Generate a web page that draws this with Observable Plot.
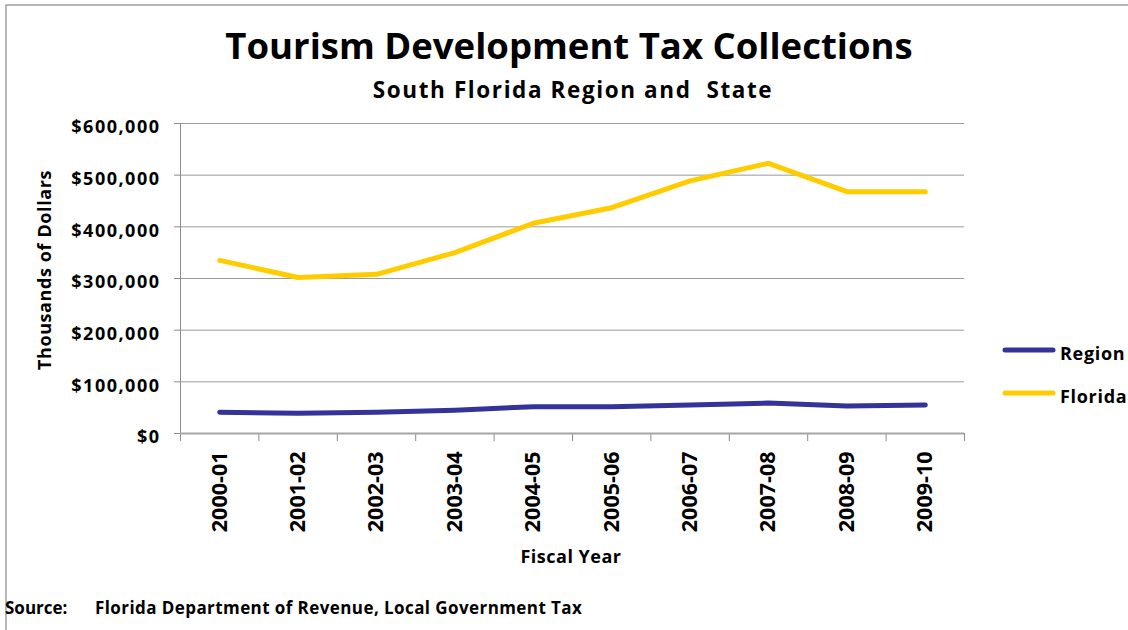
<!DOCTYPE html>
<html>
<head>
<meta charset="utf-8">
<script src="https://cdn.jsdelivr.net/npm/d3@7"></script>
<script src="https://cdn.jsdelivr.net/npm/@observablehq/plot@0.6"></script>
<style>
  html, body { margin: 0; padding: 0; background: #fff; }
  #wrap { position: relative; width: 1128px; height: 630px; overflow: hidden; font-family: "Open Sans", sans-serif; }
  #wrap > svg { position: absolute; left: 0; top: 0; }
  g[aria-label="y-axis tick label"] text { letter-spacing: 1.5px; }
  .t { font-family: "Open Sans", sans-serif; font-weight: bold; fill: #000; }
</style>
</head>
<body>
<div id="wrap"></div>
<script>
// ---- data ----
const years = ["2000-01","2001-02","2002-03","2003-04","2004-05","2005-06","2006-07","2007-08","2008-09","2009-10"];
const region = [41000, 39000, 41000, 45000, 52000, 52000, 55000, 59000, 53000, 55000];
const florida = [335000, 302000, 308000, 350000, 407000, 437000, 489000, 523000, 468000, 468000];
const yTicks = [0, 100000, 200000, 300000, 400000, 500000, 600000];
const seriesNames = ["Region", "Florida"];
const seriesColors = ["#333399", "#FFCC00"];

const rows = years.map((y, i) => ({i, year: y, region: region[i], florida: florida[i]}));
const boundaries = d3.range(-0.5, years.length, 1);
const fmt = d => "$" + d3.format(",")(d);

const chart = Plot.plot({
  width: 1128,
  height: 630,
  marginTop: 123,
  marginBottom: 197,
  marginLeft: 180,
  marginRight: 164,
  style: {fontFamily: "Open Sans", background: "transparent"},
  x: {type: "linear", domain: [-0.5, years.length - 0.5], axis: null},
  y: {domain: [0, 600000], axis: null},
  marks: [
    Plot.gridY(yTicks, {stroke: "#9a9a9a", strokeOpacity: 1, strokeWidth: 1}),
    Plot.ruleX([-0.5], {y1: 0, y2: 600000, stroke: "#8c8c8c", strokeWidth: 1}),
    // small tick marks left of the y axis
    Plot.ruleY(yTicks, {x1: -0.5, x2: -0.5, insetLeft: -6, stroke: "#8c8c8c", strokeWidth: 1}),
    Plot.axisY(yTicks, {tickSize: 0, tickPadding: 20, tickFormat: fmt, fontSize: 18, fontWeight: "bold", fill: "#000", dy: 4, label: null}),
    // category boundary ticks below the x axis
    Plot.ruleX(boundaries, {y1: 0, y2: 0, insetBottom: -8, stroke: "#8c8c8c", strokeWidth: 1}),
    Plot.axisX(d3.range(years.length), {tickSize: 0, tickPadding: 18, tickRotate: -90, tickFormat: i => years[i], fontSize: 21.5, fontWeight: "bold", fill: "#000", label: null}),
    Plot.ruleY([0], {stroke: "#a6a6a6", strokeWidth: 2}),
    Plot.line(rows, {x: "i", y: "region", stroke: seriesColors[0], strokeWidth: 5, strokeLinecap: "round", strokeLinejoin: "round"}),
    Plot.line(rows, {x: "i", y: "florida", stroke: seriesColors[1], strokeWidth: 5, strokeLinecap: "round", strokeLinejoin: "round"})
  ]
});
document.getElementById("wrap").appendChild(chart);

// ---- overlay texts, legend, border ----
const ns = "http://www.w3.org/2000/svg";
const ov = d3.select("#wrap").append("svg").attr("xmlns", ns).attr("width", 1128).attr("height", 630);
ov.append("path").attr("d", "M6,630 V5 H1128").attr("fill", "none").attr("stroke", "#a0a0a0").attr("stroke-width", 1.5);
ov.append("text").attr("class", "t").attr("x", 569).attr("y", 59).attr("text-anchor", "middle").attr("font-size", 36.5)
  .text("Tourism Development Tax Collections");
ov.append("text").attr("class", "t").attr("x", 573).attr("y", 98).attr("text-anchor", "middle").attr("font-size", 22.5).attr("letter-spacing", 1.6)
  .style("white-space", "pre").text("South Florida Region and  State");
ov.append("text").attr("class", "t").attr("transform", "translate(51,270) rotate(-90)").attr("text-anchor", "middle").attr("font-size", 18).attr("letter-spacing", 0.6)
  .text("Thousands of Dollars");
ov.append("text").attr("class", "t").attr("x", 571).attr("y", 563).attr("text-anchor", "middle").attr("font-size", 18).attr("letter-spacing", 0.5)
  .text("Fiscal Year");
ov.append("text").attr("class", "t").attr("x", 5).attr("y", 614).attr("font-size", 17).attr("letter-spacing", 0)
  .text("Source:");
ov.append("text").attr("class", "t").attr("x", 95).attr("y", 614).attr("font-size", 17).attr("letter-spacing", 0.42)
  .text("Florida Department of Revenue, Local Government Tax");
const legY = [350, 393];
seriesNames.forEach((name, k) => {
  ov.append("line").attr("x1", 1005).attr("x2", 1053).attr("y1", legY[k]).attr("y2", legY[k])
    .attr("stroke", seriesColors[k]).attr("stroke-width", 5).attr("stroke-linecap", "round");
  ov.append("text").attr("class", "t").attr("x", 1060).attr("y", legY[k] + 10).attr("font-size", 18).attr("letter-spacing", 0.7)
    .text(name);
});
</script>
</body>
</html>
